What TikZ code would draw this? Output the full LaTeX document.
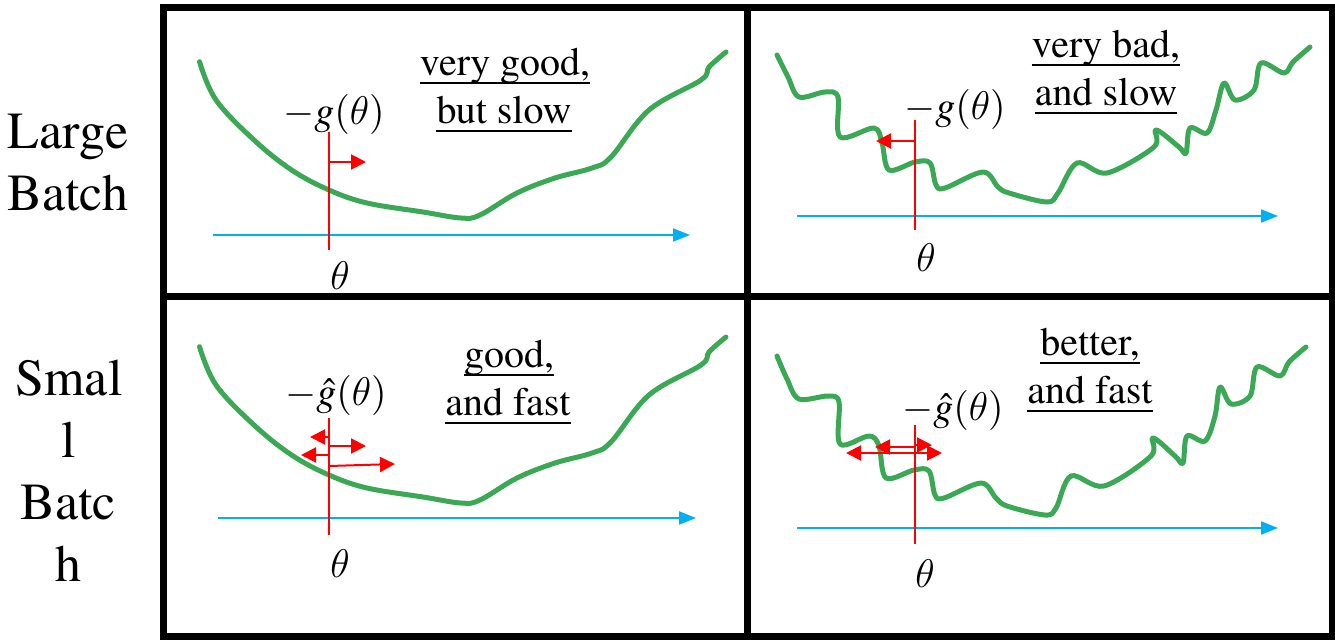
\RequirePackage{fix-cm}
\documentclass[tikz,border=0pt]{standalone}
\IfFileExists{t1ptm.fd}{\usepackage[T1]{fontenc}\usepackage{mathptmx}}{}
\DeclareSymbolFont{cmlet}{OML}{cmm}{m}{it}
\DeclareMathSymbol{\cmtheta}{\mathord}{cmlet}{"12}
\usetikzlibrary{arrows.meta}
\definecolor{cgreen}{RGB}{59,168,86}
\definecolor{cblue}{RGB}{0,176,240}
\definecolor{cred}{RGB}{255,0,0}
\tikzset{
 frame/.style={line width=7pt, black},
 curve/.style={cgreen, line width=5pt, line cap=round, line join=round},
 axisline/.style={cblue, line width=2pt, -{Triangle[length=17pt,width=13pt]}},
 redline/.style={cred, line width=2pt},
 grad/.style={cred, line width=2pt, -{Triangle[length=15pt,width=15pt]}},
 note/.style={inner sep=0pt, anchor=base, font=\fontsize{40}{48}\selectfont},
 mathlbl/.style={inner sep=0pt, anchor=base, font=\fontsize{40}{48}\selectfont},
 rowlbl/.style={inner sep=0pt, anchor=base, font=\fontsize{52}{62}\selectfont},
 uline/.style={line width=2.5pt, black},
}
\begin{document}
\begin{tikzpicture}[x=1pt,y=-1pt]
\useasboundingbox (0,0) rectangle (1335,643);
% frame
\draw[frame] (163,7) rectangle (1332,636);
\draw[frame] (747,7) -- (747,636);
\draw[frame] (163,296) -- (1332,296);
% row labels
\node[rowlbl] (l1) at (68,148) {Large};
\node[rowlbl] (l2) at (68,210) {Batch};
\node[rowlbl] (s1) at (69,395) {Smal};
\node[rowlbl] (s2) at (69,457) {l};
\node[rowlbl] (s3) at (68,519) {Batc};
\node[rowlbl] (s4) at (68,581) {h};

% ---------- top-left ----------
\draw[axisline] (213,235) -- (690,235);
\draw[curve] plot[smooth, tension=0.6] coordinates {(199.5,61.7) (216,100) (254,140) (291.6,170) (329,190) (367,203) (423,212) (461,218) (480,215) (517,193) (555,178) (592,168) (611,157) (649,110) (701,80) (709,67) (726,52)};
\draw[redline] (329,132) -- (329,250);
\draw[grad] (329,162) -- (366,162);
\node[mathlbl] (g1) at (334,124) {$-g(\cmtheta)$};
\node[mathlbl] (t1) at (340,289) {$\cmtheta$};
\node[note] (a1) at (505,75) {very good,};
\node[note] (a2) at (504,123) {but slow};
\draw[uline] ([yshift=-8pt]a1.base west) -- ([yshift=-8pt]a1.base east);
\draw[uline] ([yshift=-8pt]a2.base west) -- ([yshift=-8pt]a2.base east);

% ---------- top-right ----------
\draw[axisline] (797,216) -- (1278,216);
\draw[curve] plot[smooth, tension=0.55] coordinates {(777,55) (788,77) (799,97) (825,92) (838,97) (840,137) (874,128) (882,143) (889,170) (915,162) (930,163) (936,185) (945,188) (983,172) (998,187) (1009,193) (1047,202) (1058,193) (1077,163) (1107,173) (1154,147) (1156,130) (1179,147) (1186,153) (1190,128) (1207,133) (1216,110) (1224,83) (1235,100) (1254,90) (1261,63) (1284,73) (1293,62) (1310,47)};
\draw[redline] (915,120) -- (915,230);
\draw[grad] (915,141) -- (876,141);
\node[mathlbl] (g2) at (955,119) {$-g(\cmtheta)$};
\node[mathlbl] (t2) at (926,271) {$\cmtheta$};
\node[note] (b1) at (1106,57) {very bad,};
\node[note] (b2) at (1106,105) {and slow};
\draw[uline] ([yshift=-8pt]b1.base west) -- ([yshift=-8pt]b1.base east);
\draw[uline] ([yshift=-8pt]b2.base west) -- ([yshift=-8pt]b2.base east);

% ---------- bottom-left ----------
\draw[axisline] (218,518) -- (696,518);
\begin{scope}[yshift=-285pt]
\draw[curve] plot[smooth, tension=0.6] coordinates {(199.5,61.7) (216,100) (254,140) (291.6,170) (329,190) (367,203) (423,212) (461,218) (480,215) (517,193) (555,178) (592,168) (611,157) (649,110) (701,80) (709,67) (726,52)};
\end{scope}
\draw[redline] (329,418) -- (329,535);
\draw[grad] (329,437) -- (310,437);
\draw[grad] (329,446) -- (366,446);
\draw[grad] (329,455) -- (301,455);
\draw[grad] (329,466) -- (395,464);
\node[mathlbl] (g3) at (336,405) {$-\hat{g}(\cmtheta)$};
\node[mathlbl] (t3) at (340,577) {$\cmtheta$};
\node[note] (c1) at (509,367) {good,};
\node[note] (c2) at (508,415) {and fast};
\draw[uline] ([yshift=-8pt]c1.base west) -- ([yshift=-8pt]c1.base east);
\draw[uline] ([yshift=-8pt]c2.base west) -- ([yshift=-8pt]c2.base east);

% ---------- bottom-right ----------
\draw[axisline] (797,528) -- (1278,528);
\draw[curve] plot[smooth, tension=0.55] coordinates {(777,356) (787,379) (799,399) (828,396) (839,402) (840,444) (869,436) (879,446) (886,478) (914,470) (929,471) (935,495) (944,498) (981,483) (996,498) (1007,506) (1045,515) (1056,508) (1071,476) (1104,486) (1151,456) (1153,438) (1175,456) (1183,463) (1187,436) (1205,441) (1215,416) (1220,387) (1231,404) (1250,396) (1257,367) (1280,376) (1289,362) (1306,347)};
\draw[redline] (915,425) -- (915,544);
\draw[grad] (915,447) -- (875,447);
\draw[grad] (915,445) -- (932,445);
\draw[grad] (915,453) -- (846,453);
\draw[grad] (915,453) -- (942,453);
\node[mathlbl] (g4) at (953,420) {$-\hat{g}(\cmtheta)$};
\node[mathlbl] (t4) at (925,587) {$\cmtheta$};
\node[note] (d1) at (1090,355) {better,};
\node[note] (d2) at (1090,403) {and fast};
\draw[uline] ([yshift=-8pt]d1.base west) -- ([yshift=-8pt]d1.base east);
\draw[uline] ([yshift=-8pt]d2.base west) -- ([yshift=-8pt]d2.base east);
\end{tikzpicture}
\end{document}
